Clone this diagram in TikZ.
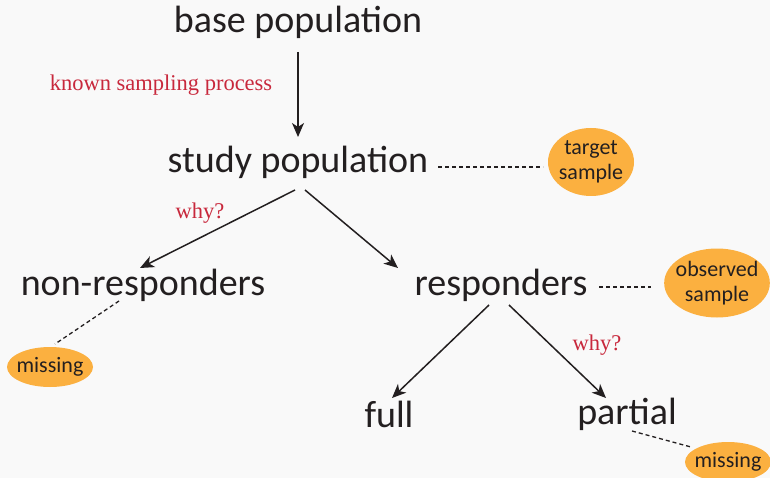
\documentclass[tikz,border=0pt]{standalone}
\usepackage{fontspec}
\setmainfont{Carlito}
\newfontfamily\redfont{Liberation Serif}
\usetikzlibrary{arrows.meta,shapes.geometric}
\definecolor{bgc}{HTML}{F9F9F9}
\definecolor{txt}{HTML}{231F20}
\definecolor{redc}{HTML}{C8283C}
\definecolor{orng}{HTML}{FBB040}
\tikzset{
  big/.style={text=txt,font=\fontsize{38}{42}\selectfont,inner sep=0pt},
  note/.style={text=redc,font=\redfont\fontsize{22.5}{26}\selectfont,inner sep=0pt},
  blob/.style={ellipse,fill=orng,inner xsep=-4pt,inner ysep=0pt,text=txt,font=\fontsize{22}{25}\selectfont,align=center},
  arr/.style={-{Stealth[length=14pt,width=12pt,inset=4pt]},line width=1.5pt,draw=txt},
  dsh/.style={dashed,dash pattern=on 4pt off 3pt,line width=1.3pt,draw=txt}
}
\begin{document}
\begin{tikzpicture}[x=1pt,y=-1pt]
\useasboundingbox[fill=bgc] (0,0) rectangle (770,478);
\node[big] (base) at (298,22) {base population};
\node[big] (study) at (298,162) {study population};
\node[big] (non) at (143,285) {non-responders};
\node[big] (resp) at (501,285) {responders};
\node[big] (full) at (389,414) {full};
\node[big] (part) at (627,414) {partial};
\node[note] (ksp) at (161,85) {known sampling process};
\node[note] (why1) at (200,213) {why?};
\node[note] (why2) at (597,345) {why?};
\node[blob,minimum width=86pt,minimum height=68pt] (tgt) at (591,162) {target\\sample};
\node[blob,minimum width=104pt,minimum height=69pt] (obs) at (717,283) {observed\\sample};
\node[blob,minimum width=86pt,minimum height=40pt] (miss1) at (50,367) {missing};
\node[blob,minimum width=86pt,minimum height=40pt] (miss2) at (728,462) {missing};
\coordinate (bs) at (298,52);
\coordinate (se) at (298,137);
\draw[arr] (bs) -- (se);
\coordinate (s1) at (295,190);
\coordinate (n1) at (140,268);
\coordinate (s2) at (305,190);
\coordinate (r1) at (398,268);
\draw[arr] (s1) -- (n1);
\draw[arr] (s2) -- (r1);
\coordinate (ra) at (489,305);
\coordinate (fa) at (392,398);
\coordinate (rb) at (509,305);
\coordinate (pa) at (606,398);
\draw[arr] (ra) -- (fa);
\draw[arr] (rb) -- (pa);
\coordinate (d1) at (438,167);
\coordinate (d2) at (543,167);
\draw[dsh] (d1) -- (d2);
\coordinate (d3) at (599,287);
\coordinate (d4) at (651,287);
\draw[dsh] (d3) -- (d4);
\coordinate (d5) at (119,301);
\coordinate (d6) at (55,344);
\draw[dsh] (d5) -- (d6);
\coordinate (d7) at (632,431);
\coordinate (d8) at (691,447);
\draw[dsh] (d7) -- (d8);
\end{tikzpicture}
\end{document}
